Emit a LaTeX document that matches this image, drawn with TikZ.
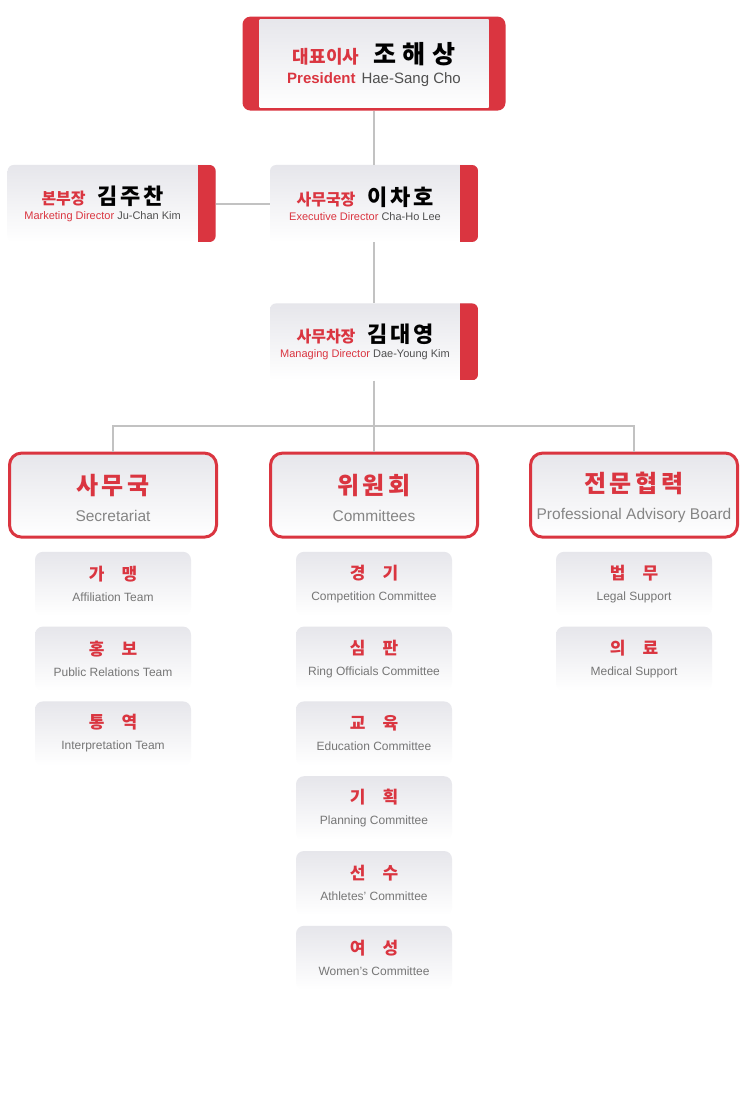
\documentclass[tikz,border=0pt]{standalone}
\usepackage{fontspec}
\setmainfont{Noto Sans CJK KR}
\newfontfamily\enfont{Liberation Sans}
\newfontfamily\namefont{Noto Sans CJK KR}[LetterSpace=12]
\newfontfamily\deptfont{Noto Sans CJK KR}[LetterSpace=16]
\usetikzlibrary{positioning}
\definecolor{krred}{HTML}{DA3540}
\definecolor{boxgray}{HTML}{E6E6EB}
\definecolor{linegray}{HTML}{C2C2C2}
\definecolor{txtgray}{HTML}{858585}
\definecolor{subgray}{HTML}{767676}
\definecolor{namegray}{HTML}{505050}
\newcommand{\fsz}[1]{\fontsize{#1}{#1}\selectfont}
\newcommand{\headlabel}[4]{\rule{0pt}{22pt}{\color{krred}\bfseries\fsz{18}#1}\hspace{14pt}{\namefont\addfontfeature{LetterSpace=26}\bfseries\fsz{25}#2}\\
  {\enfont\fsz{15}{\color{krred}\bfseries #3}\hspace{6pt}{\color{namegray}#4}}}
\newcommand{\dirlabel}[4]{\parbox{190pt}{\centering\fsz{15}%
  {\color{krred}\bfseries\fsz{16}#1}\hspace{12pt}{\namefont\bfseries\fsz{22}#2}\\
  {\enfont\fsz{11}{\color{krred}#3} {\color{namegray}#4}}}\kern18pt}
\newcommand{\deptlabel}[2]{\rule{0pt}{25pt}{\deptfont\color{krred}\bfseries\fsz{24}#1}\\{\enfont\color{txtgray}\fsz{15.5}#2}}
\newcommand{\sublabel}[2]{{\color{krred}\bfseries\fsz{17}#1}\\{\enfont\color{subgray}\fsz{12}#2}}

\begin{document}
\begin{tikzpicture}[x=1pt, y=-1pt, node distance=15pt,
    every node/.style={inner sep=0pt},
    link/.style={draw=linegray, line width=2pt},
    head/.style={rectangle, rounded corners=8pt, fill=krred, minimum width=263pt, minimum height=94pt, align=center, font=\fsz{20},
      path picture={\shade[sharp corners, top color=boxgray, bottom color=white] ([shift={(17pt,3pt)}]path picture bounding box.south west) rectangle ([shift={(-17pt,-3pt)}]path picture bounding box.north east);}},
    dir/.style={rectangle, rounded corners=6pt, top color=boxgray, bottom color=white, minimum width=208pt, minimum height=77pt,
      path picture={\fill[krred, sharp corners] ([xshift=-18pt]path picture bounding box.south east) rectangle (path picture bounding box.north east);}},
    dept/.style={rectangle, rounded corners=12pt, draw=krred, line width=3pt, top color=boxgray, bottom color=white, minimum width=207pt, minimum height=84pt, align=center, font=\fsz{27}},
    sub/.style={rectangle, rounded corners=8pt, top color=boxgray, bottom color=white, minimum width=156pt, minimum height=64pt, align=center, font=\fsz{21}}]
    \fill[white] (0,0) rectangle (751,1102);
    \useasboundingbox (0,0) rectangle (751,1102);

    \node[dir] (exec) at (374,203.5) {\dirlabel{사무국장}{이차호}{Executive Director}{Cha-Ho Lee}};
    \node[head, above=54pt of exec] (pres) {\headlabel{대표이사}{조해상}{President}{Hae-Sang Cho}};
    \node[dir, left=54pt of exec] (mkt) {\dirlabel{본부장}{김주찬}{Marketing Director}{Ju-Chan Kim}};
    \node[dir, below=61pt of exec] (mgr) {\dirlabel{사무차장}{김대영}{Managing Director}{Dae-Young Kim}};
    \node[dept, below=71pt of mgr] (com) {\deptlabel{위원회}{Committees}};
    \node[dept, left=51pt of com] (sec) {\deptlabel{사무국}{Secretariat}};
    \node[dept, right=50pt of com] (adv) {\deptlabel{전문협력}{Professional Advisory Board}};
    \coordinate[below=45pt of mgr] (bus);

    \node[sub, below=13pt of sec] (aff) {\sublabel{가　맹}{Affiliation Team}};
    \node[sub, below=10.4pt of aff] (pr) {\sublabel{홍　보}{Public Relations Team}};
    \node[sub, below=10.4pt of pr] (interp) {\sublabel{통　역}{Interpretation Team}};

    \node[sub, below=13pt of com] (comp) {\sublabel{경　기}{Competition Committee}};
    \node[sub, below=10.4pt of comp] (ring) {\sublabel{심　판}{Ring Officials Committee}};
    \node[sub, below=10.4pt of ring] (edu) {\sublabel{교　육}{Education Committee}};
    \node[sub, below=10.4pt of edu] (plan) {\sublabel{기　획}{Planning Committee}};
    \node[sub, below=10.4pt of plan] (ath) {\sublabel{선　수}{Athletes’ Committee}};
    \node[sub, below=10.4pt of ath] (wom) {\sublabel{여　성}{Women’s Committee}};

    \node[sub, below=13pt of adv] (legal) {\sublabel{법　무}{Legal Support}};
    \node[sub, below=10.4pt of legal] (med) {\sublabel{의　료}{Medical Support}};

    \draw[link] (pres) -- (exec);
    \draw[link] (mkt) -- (exec);
    \draw[link] (exec) -- (mgr);
    \draw[link] (mgr) -- (com);
    \draw[link] (sec) |- (bus) -| (adv);
\end{tikzpicture}
\end{document}
